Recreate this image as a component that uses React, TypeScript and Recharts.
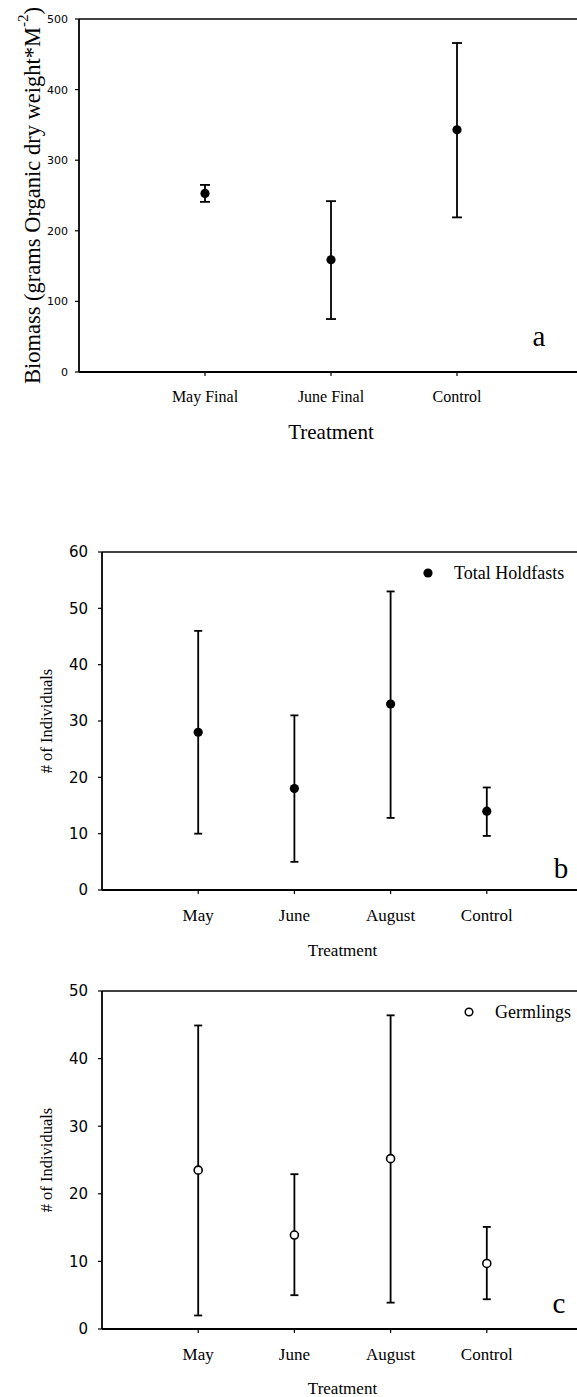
import React from 'react';
import { ScatterChart, Scatter, XAxis, YAxis, ErrorBar, ReferenceLine, Legend, Label } from 'recharts';

// panel a: biomass
const biomassCategories = ['May Final', 'June Final', 'Control'];
const biomassMean = [253, 159, 343];
const biomassLow = [241, 75, 219];
const biomassHigh = [265, 242, 466];
const biomassTicks = [0, 100, 200, 300, 400, 500];

// panel b + c: counts
const monthCategories = ['May', 'June', 'August', 'Control'];
const holdfastMean = [28, 18, 33, 14];
const holdfastLow = [10, 5, 12.8, 9.6];
const holdfastHigh = [46, 31, 53, 18.2];
const holdfastTicks = [0, 10, 20, 30, 40, 50, 60];

const germlingMean = [23.5, 13.9, 25.2, 9.7];
const germlingLow = [2, 5, 3.9, 4.4];
const germlingHigh = [44.9, 22.9, 46.4, 15.1];
const germlingTicks = [0, 10, 20, 30, 40, 50];

const SERIF = '"Liberation Serif", "Times New Roman", serif';
const SANS = '"DejaVu Sans", Arial, sans-serif';
const CHART_W = 583;

const toRows = (cats: string[], mean: number[], low: number[], high: number[]) =>
  cats.map((c, i) => ({
    pos: i + 1,
    name: c,
    value: mean[i],
    err: [mean[i] - low[i], high[i] - mean[i]],
  }));

interface PanelProps {
  top: number;
  height: number;
  plotTop: number;
  plotBottom: number;
  yAxisWidth: number;
  categories: string[];
  rows: ReturnType<typeof toRows>;
  ticks: number[];
  tickFont: number;
  tickMargin: number;
  catFont: number;
  catMargin: number;
  titleFont: number;
  titleY: number;
  yLabel: React.ReactNode;
  yLabelX: number;
  yLabelFont: number;
  capWidth: number;
  open?: boolean;
  legendName?: string;
  legendX?: number;
  legendY?: number;
}

const Panel = (p: PanelProps) => {
  const yMid = (p.plotTop + p.plotBottom) / 2 - p.top;
  const xMid = (p.yAxisWidth + CHART_W) / 2;
  const dot = (s: any) =>
    p.open ? (
      <circle cx={s.cx} cy={s.cy} r={4} fill="#fff" stroke="#000" strokeWidth={1.6} />
    ) : (
      <circle cx={s.cx} cy={s.cy} r={4.6} fill="#000" />
    );

  return (
    <div style={{ position: 'absolute', left: 0, top: p.top }}>
      <ScatterChart
        width={CHART_W}
        height={p.height}
        margin={{ top: p.plotTop - p.top, right: 0, bottom: 0, left: 0 }}
      >
        <XAxis
          type="number"
          dataKey="pos"
          domain={[0, p.categories.length + 1]}
          ticks={p.categories.map((_, i) => i + 1)}
          tickFormatter={(v: number) => p.categories[v - 1]}
          interval={0}
          height={p.top + p.height - p.plotBottom}
          axisLine={{ stroke: '#000', strokeWidth: 1.8 }}
          tickLine={{ stroke: '#000', strokeWidth: 1.2 }}
          tickSize={4}
          tickMargin={p.catMargin}
          tick={{ fill: '#000', fontSize: p.catFont, fontFamily: SERIF }}
        >
          <Label
            content={() => (
              <text
                x={xMid}
                y={p.titleY - p.top}
                textAnchor="middle"
                dominantBaseline="central"
                fontFamily={SERIF}
                fontSize={p.titleFont}
                fill="#000"
              >
                Treatment
              </text>
            )}
          />
        </XAxis>
        <YAxis
          type="number"
          dataKey="value"
          domain={[0, p.ticks[p.ticks.length - 1]]}
          ticks={p.ticks}
          interval={0}
          width={p.yAxisWidth}
          axisLine={{ stroke: '#000', strokeWidth: 1.8 }}
          tickLine={{ stroke: '#000', strokeWidth: 1.2 }}
          tickSize={4}
          tickMargin={p.tickMargin}
          tick={{ fill: '#000', fontSize: p.tickFont, fontFamily: SANS }}
        >
          <Label
            content={() => (
              <text
                x={p.yLabelX}
                y={yMid}
                transform={`rotate(-90, ${p.yLabelX}, ${yMid})`}
                textAnchor="middle"
                dominantBaseline="central"
                fontFamily={SERIF}
                fontSize={p.yLabelFont}
                fill="#000"
              >
                {p.yLabel}
              </text>
            )}
          />
        </YAxis>
        <ReferenceLine y={p.ticks[p.ticks.length - 1]} stroke="#000" strokeWidth={1.6} />
        {p.legendName && (
          <Legend
            layout="horizontal"
            verticalAlign="middle"
            align="center"
            wrapperStyle={{ left: (p.legendX ?? 0) - 6, top: (p.legendY ?? 0) - p.top - 12, width: 'auto' }}
            content={() => (
              <div style={{ display: 'flex', alignItems: 'center', height: 24, whiteSpace: 'nowrap' }}>
                <svg width={12} height={12} style={{ marginRight: 20 }}>
                  {p.open ? (
                    <circle cx={6} cy={6} r={3.8} fill="#fff" stroke="#000" strokeWidth={1.5} />
                  ) : (
                    <circle cx={6} cy={6} r={4.6} fill="#000" />
                  )}
                </svg>
                <span style={{ fontFamily: SERIF, fontSize: 18, color: '#000' }}>{p.legendName}</span>
              </div>
            )}
          />
        )}
        <Scatter data={p.rows} dataKey="value" shape={dot} isAnimationActive={false} name={p.legendName}>
          <ErrorBar dataKey="err" direction="y" width={p.capWidth} stroke="#000" strokeWidth={1.8} isAnimationActive={false} />
        </Scatter>
      </ScatterChart>
    </div>
  );
};

export default function App() {
  return (
    <div
      style={{
        position: 'absolute',
        left: 0,
        top: 0,
        width: 577,
        height: 1397,
        overflow: 'hidden',
        background: '#fff',
      }}
    >
      <Panel
        top={0}
        height={460}
        plotTop={19}
        plotBottom={372}
        yAxisWidth={79}
        categories={biomassCategories}
        rows={toRows(biomassCategories, biomassMean, biomassLow, biomassHigh)}
        ticks={biomassTicks}
        tickFont={11}
        tickMargin={7}
        catFont={16}
        catMargin={15}
        titleFont={21}
        titleY={432}
        yLabel={
          <>
            <tspan>Biomass (grams Organic dry weight*M</tspan>
            <tspan dy={-9} fontSize={15}>-2</tspan>
            <tspan dy={9}>)</tspan>
          </>
        }
        yLabelX={32}
        yLabelFont={22.5}
        capWidth={5}
      />
      <Panel
        top={480}
        height={490}
        plotTop={552}
        plotBottom={890}
        yAxisWidth={102}
        categories={monthCategories}
        rows={toRows(monthCategories, holdfastMean, holdfastLow, holdfastHigh)}
        ticks={holdfastTicks}
        tickFont={15}
        tickMargin={10}
        catFont={17}
        catMargin={15}
        titleFont={17}
        titleY={950}
        yLabel="# of Individuals"
        yLabelX={46}
        yLabelFont={16.5}
        capWidth={4}
        legendName="Total Holdfasts"
        legendX={428}
        legendY={573}
      />
      <Panel
        top={975}
        height={422}
        plotTop={991}
        plotBottom={1329}
        yAxisWidth={102}
        categories={monthCategories}
        rows={toRows(monthCategories, germlingMean, germlingLow, germlingHigh)}
        ticks={germlingTicks}
        tickFont={15}
        tickMargin={10}
        catFont={17}
        catMargin={15}
        titleFont={17}
        titleY={1388}
        yLabel="# of Individuals"
        yLabelX={46}
        yLabelFont={16.5}
        capWidth={4}
        open
        legendName="Germlings"
        legendX={469}
        legendY={1012}
      />
      <svg width={577} height={1397} style={{ position: 'absolute', left: 0, top: 0, pointerEvents: 'none' }}>
        <text x={539} y={346} textAnchor="middle" fontFamily={SERIF} fontSize={29} fill="#000">a</text>
        <text x={561} y={878} textAnchor="middle" fontFamily={SERIF} fontSize={29} fill="#000">b</text>
        <text x={559} y={1313} textAnchor="middle" fontFamily={SERIF} fontSize={29} fill="#000">c</text>
      </svg>
    </div>
  );
}
